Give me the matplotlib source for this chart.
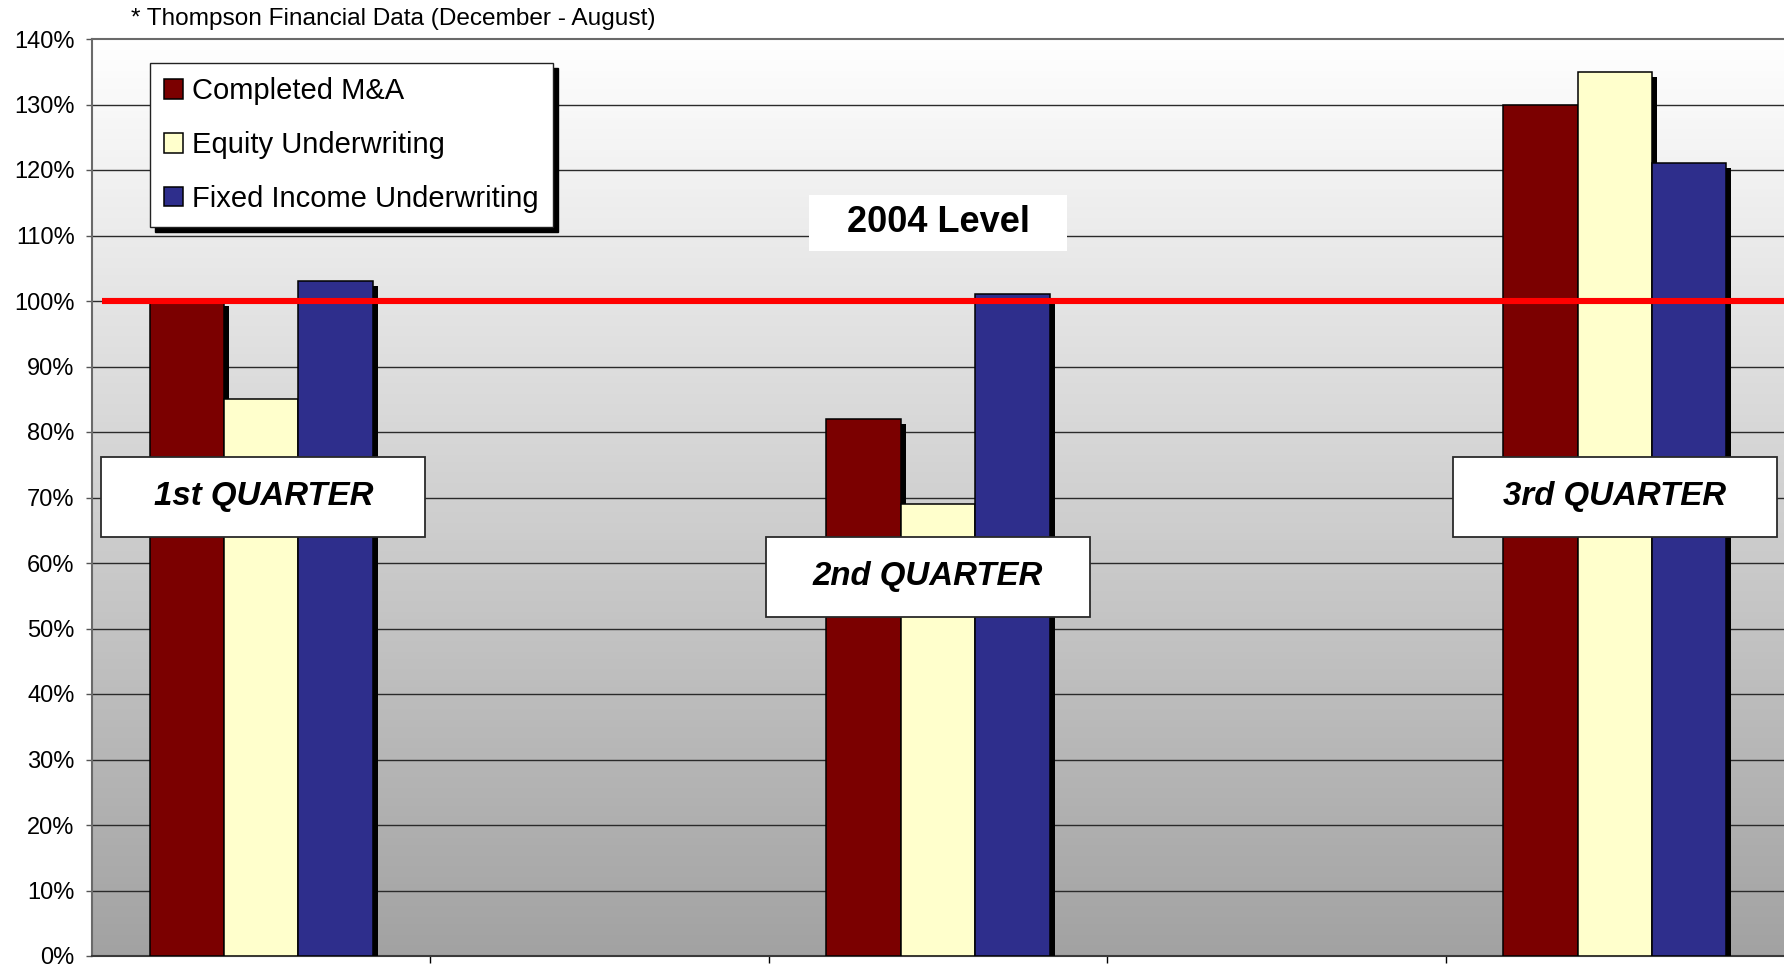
import numpy as np
import matplotlib
matplotlib.use("Agg")
import matplotlib.pyplot as plt
from matplotlib import patheffects as pe
from matplotlib.colors import LinearSegmentedColormap
from matplotlib.patches import Patch, Rectangle
from matplotlib.ticker import PercentFormatter

plt.rcParams['font.family'] = ['Liberation Sans', 'DejaVu Sans']

# activity vs. 2004 level, per quarter
quarters = ['1st QUARTER', '2nd QUARTER', '3rd QUARTER']
completed_ma = [100, 82, 130]
equity_uw = [85, 69, 135]
fixed_income_uw = [103, 101, 121]
series_names = ['Completed M&A', 'Equity Underwriting', 'Fixed Income Underwriting']
series_colors = ['#7b0000', '#ffffcc', '#2e2e8c']
level_2004 = 100
note = '* Thompson Financial Data (December - August)'

fig = plt.figure(figsize=(17.84, 9.67), dpi=100)
ax = fig.add_axes([92 / 1784, 11 / 967, 1692 / 1784, 917 / 967])

xmin, xmax = -0.5, 4.5
ymin, ymax = 0, 140

# background: white at the top fading to grey at the bottom
bg = LinearSegmentedColormap.from_list('bg', ['#a2a2a2', '#ffffff'])
grad = np.linspace(0, 1, 256).reshape(-1, 1)
ax.imshow(grad, extent=[xmin, xmax, ymin, ymax], origin='lower',
          aspect='auto', cmap=bg, zorder=0)

for y in range(10, 140, 10):
    ax.axhline(y, color='#2a2a2a', lw=1.0, zorder=1)

# quarters sit in every other slot
xpos = np.arange(len(quarters)) * 2
width = 0.22
shadow = [pe.SimplePatchShadow(offset=(3.6, -3.6), shadow_rgbFace='black', alpha=1.0),
          pe.Normal()]
for i, (vals, color) in enumerate(zip([completed_ma, equity_uw, fixed_income_uw], series_colors)):
    bars = ax.bar(xpos + (i - 1) * width, vals, width, color=color,
                  edgecolor='black', linewidth=1.1, zorder=3)
    for b in bars:
        b.set_path_effects(shadow)

# 2004 reference line
ax.plot([-0.471, xmax], [level_2004, level_2004], color='#ff0000', lw=4.4,
        solid_capstyle='butt', zorder=4, clip_on=False)

ax.add_patch(Rectangle((2.0 - 0.38, 107.6), 0.76, 8.6, facecolor='white',
                       edgecolor='none', zorder=2))
ax.text(2.0, 112.0, '2004 Level', ha='center', va='center', fontsize=26,
        fontweight='bold', zorder=3)

# quarter captions
label_x = [0.0065, 1.97, 4.0]
label_y = [70.1, 57.9, 70.1]
for x, name, yc in zip(label_x, quarters, label_y):
    ax.add_patch(Rectangle((x - 0.4785, yc - 6.1), 0.957, 12.2, facecolor='white',
                           edgecolor='#2a2a2a', lw=1.3, zorder=6))
    ax.text(x, yc, name, ha='center', va='center', fontsize=23.8,
            fontweight='bold', fontstyle='italic', zorder=7)

ax.set_xlim(xmin, xmax)
ax.set_ylim(ymin, ymax)
ax.set_yticks(range(0, 141, 10))
ax.yaxis.set_major_formatter(PercentFormatter(decimals=0))
ax.set_xticks([0.5, 1.5, 2.5, 3.5])
ax.set_xticklabels([])
ax.tick_params(axis='y', direction='out', length=4.5, width=1, color='#555555',
               labelsize=17, pad=8)
ax.tick_params(axis='x', direction='out', length=5, width=1, color='black')

for side in ['left', 'top']:
    ax.spines[side].set_color('#6a6a6a')
    ax.spines[side].set_linewidth(1.5)
ax.spines['bottom'].set_color('#3a3a3a')
ax.spines['bottom'].set_linewidth(1.5)
ax.spines['right'].set_visible(False)

handles = [Patch(facecolor=c, edgecolor='black', linewidth=1.1) for c in series_colors]
leg = ax.legend(handles, series_names, loc='upper left', bbox_to_anchor=(0.0342, 0.974),
                borderaxespad=0, fontsize=21, handlelength=0.65, handleheight=0.65,
                handletextpad=0.3, labelspacing=0.88, borderpad=0.5, fancybox=False,
                framealpha=1, edgecolor='#222222',
                shadow={'color': 'black', 'alpha': 1, 'ox': 3.6, 'oy': -3.6})
leg.get_frame().set_linewidth(1.0)
leg.set_zorder(8)

fig.text(131 / 1784, 1 - 19 / 967, note, ha='left', va='center', fontsize=17.6)

fig.savefig('out.png', dpi=100)
